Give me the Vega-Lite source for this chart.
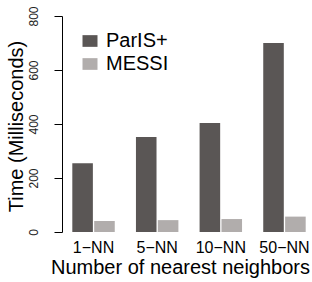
{
  "$schema": "https://vega.github.io/schema/vega-lite/v6.json",
  "width": 254,
  "height": 216,
  "autosize": "none",
  "padding": {"left": 62, "top": 16, "right": 0, "bottom": 50},
  "data": {
    "values": [
      {"k": "1−NN", "method": "ParIS+", "time": 255},
      {"k": "1−NN", "method": "MESSI", "time": 41},
      {"k": "5−NN", "method": "ParIS+", "time": 352},
      {"k": "5−NN", "method": "MESSI", "time": 44},
      {"k": "10−NN", "method": "ParIS+", "time": 404},
      {"k": "10−NN", "method": "MESSI", "time": 48},
      {"k": "50−NN", "method": "ParIS+", "time": 700},
      {"k": "50−NN", "method": "MESSI", "time": 57}
    ]
  },
  "mark": {"type": "bar"},
  "encoding": {
    "x": {
      "field": "k",
      "type": "nominal",
      "sort": ["1−NN", "5−NN", "10−NN", "50−NN"],
      "scale": {"paddingInner": 0.333, "paddingOuter": 0.162},
      "axis": {
        "title": "Number of nearest neighbors",
        "labelAngle": 0,
        "labelFontSize": 16,
        "labelPadding": 7,
        "labelColor": "#000",
        "ticks": false,
        "domain": false,
        "titleFontSize": 20,
        "titleFontWeight": "normal",
        "titleColor": "#000",
        "titleX": 118,
        "titleY": 41,
        "titleAlign": "center",
        "titleBaseline": "alphabetic"
      }
    },
    "xOffset": {
      "field": "method",
      "type": "nominal",
      "sort": ["ParIS+", "MESSI"],
      "scale": {"paddingInner": 0.06}
    },
    "y": {
      "field": "time",
      "type": "quantitative",
      "scale": {"domain": [0, 800], "nice": false},
      "axis": {
        "values": [0, 200, 400, 600, 800],
        "grid": false,
        "labelAngle": 270,
        "labelAlign": "center",
        "labelBaseline": "alphabetic",
        "labelFontSize": 12,
        "labelPadding": 17,
        "labelColor": "#222",
        "labelFlush": false,
        "labelOverlap": false,
        "labelBound": false,
        "tickSize": 8,
        "tickColor": "#000",
        "domainColor": "#000",
        "title": "Time (Milliseconds)",
        "titleFontSize": 20,
        "titleFontWeight": "normal",
        "titleColor": "#000",
        "titleAngle": 270,
        "titleX": -40,
        "titleY": 110,
        "titleAlign": "center",
        "titleBaseline": "alphabetic"
      }
    },
    "color": {
      "field": "method",
      "type": "nominal",
      "sort": ["ParIS+", "MESSI"],
      "scale": {"domain": ["ParIS+", "MESSI"], "range": ["#5a5655", "#b1adac"]},
      "legend": {
        "orient": "none",
        "legendX": 18,
        "legendY": 15,
        "title": null,
        "labelFontSize": 20,
        "labelColor": "#000",
        "labelOffset": 6,
        "symbolType": "M-1,-0.78H1V0.78H-1Z",
        "symbolSize": 225,
        "symbolStrokeWidth": 0,
        "symbolOpacity": 1,
        "rowPadding": 3,
        "padding": 0
      }
    }
  },
  "config": {
    "font": "Liberation Sans",
    "view": {"stroke": null}
  }
}
